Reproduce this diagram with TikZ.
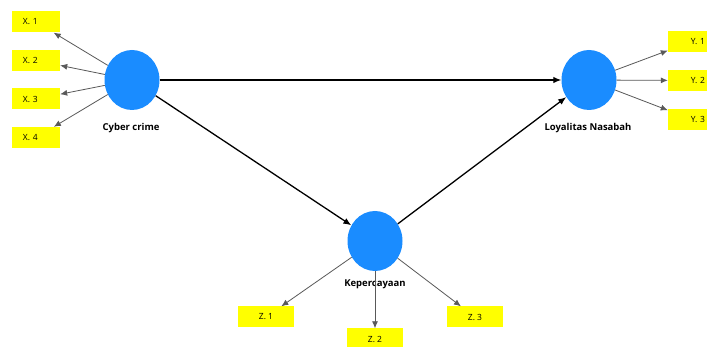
\documentclass[tikz,border=0pt]{standalone}
\usepackage{fontspec}
\setmainfont{Open Sans}
\usetikzlibrary{arrows.meta,shapes.geometric}
\definecolor{lvblue}{HTML}{1A8CFF}
\definecolor{indyellow}{HTML}{FFFF00}
\colorlet{pathgray}{black!65}

\begin{document}
\begin{tikzpicture}[x=1pt,y=-1pt,
    lv/.style = {ellipse, fill=lvblue, minimum width=55pt, minimum height=60pt, inner sep=0pt},
    ind/.style = {fill=indyellow, minimum height=21pt, inner ysep=0pt, font=\fontsize{8.5}{10}\selectfont},
    indl/.style = {ind, text width=26pt, inner xsep=11pt, align=left},
    indr/.style = {ind, text width=26pt, inner xsep=11pt, align=right},
    indc/.style = {ind, minimum width=56pt, inner xsep=0pt},
    lvname/.style = {font=\bfseries\fontsize{9.5}{11}\selectfont},
    inner/.style = {line width=1.3pt, -{Latex[length=8pt,width=6.5pt]}},
    outer/.style = {draw=pathgray, line width=0.8pt, -{Latex[length=7pt,width=6pt]}}]
    \fill[white] (0,0) rectangle (707,347);
    \useasboundingbox (0,0) rectangle (707,347);

    % latent variables
    \node[lv] (cc) at (132,80) {};
    \node[lv] (ln) at (589,80) {};
    \node[lv] (kp) at (375,241) {};
    \node[lvname] (ccname) at (131,128) {Cyber crime};
    \node[lvname] (lnname) at (588,128) {Loyalitas Nasabah};
    \node[lvname] (kpname) at (375,284) {Kepercayaan};

    % indicators
    \foreach \i/\yy in {1/22,2/60.5,3/99,4/137.5} {
        \node[indl] (x\i) at (36,\yy) {X. \i};
        \draw[outer] (cc) -- (x\i);
    }
    \foreach \i/\yy in {1/41.5,2/80.5,3/119.5} {
        \node[indr] (y\i) at (692,\yy) {Y. \i};
        \draw[outer] (ln) -- (y\i);
    }
    \foreach \i/\xx/\yy in {1/266/317,2/375/339,3/475/317} {
        \node[indc] (z\i) at (\xx,\yy) {Z. \i};
        \draw[outer] (kp) -- (z\i);
    }

    % paths
    \draw[inner] (cc) -- (ln);
    \draw[inner] (cc) -- (kp);
    \draw[inner] (kp) -- (ln);
\end{tikzpicture}
\end{document}
